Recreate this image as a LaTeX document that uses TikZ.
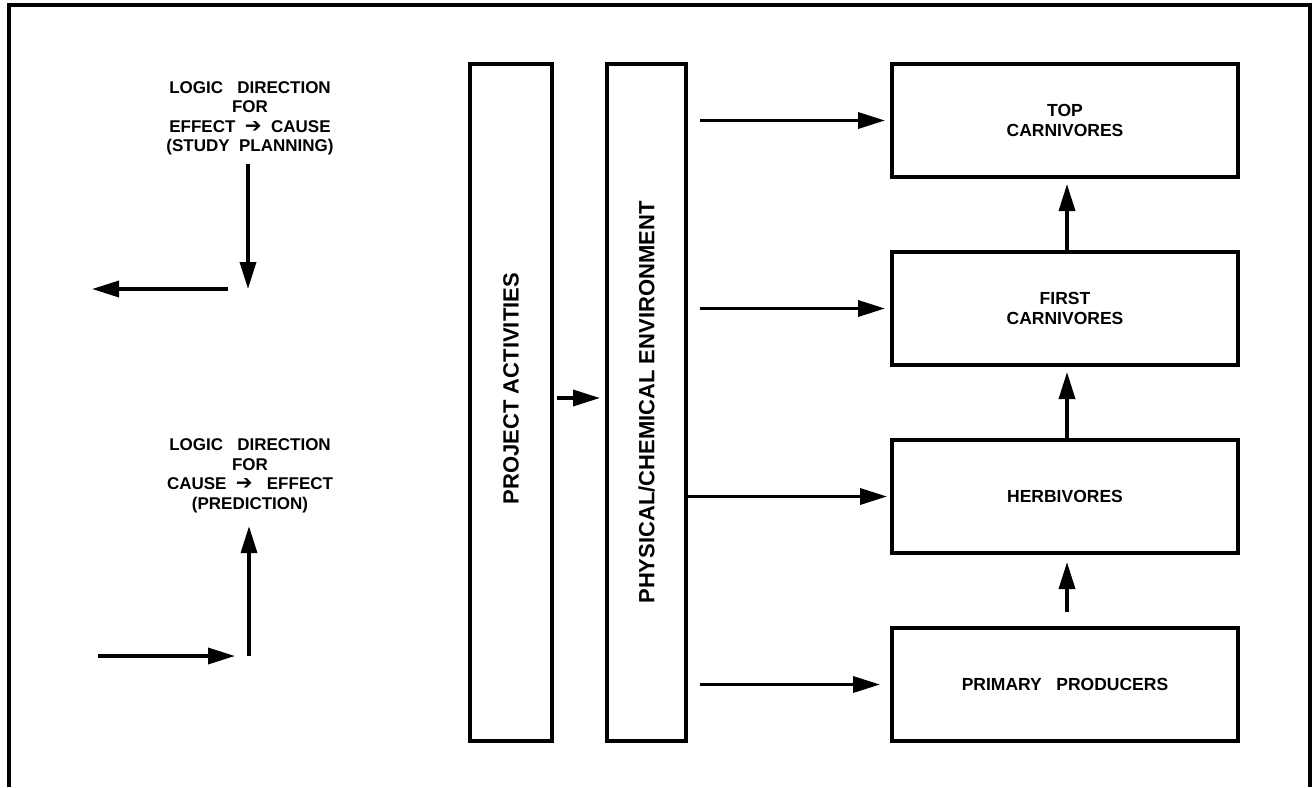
\documentclass[tikz,border=0pt]{standalone}
\usepackage{fontspec}
\setmainfont{Liberation Sans}
\newfontfamily\symfont{DejaVu Sans}
\usetikzlibrary{arrows.meta,positioning}

\tikzset{
  arr/.style={line width=3.5pt, -{Triangle[length=27pt,width=16pt]}},
  level/.style={draw, line width=3.5pt, minimum width=346pt, minimum height=113pt,
    inner sep=0pt, outer sep=0pt, align=center,
    font=\bfseries\fontsize{17.5}{19.5}\selectfont},
  column/.style={draw, line width=3.5pt, minimum height=677pt,
    inner sep=0pt, outer sep=0pt, font=\bfseries\fontsize{22}{24}\selectfont},
  logic/.style={align=center, inner sep=3pt, font=\bfseries\fontsize{17}{19.5}\selectfont}
}
\newcommand{\smallarr}{{\symfont\mdseries\fontsize{20}{19.5}\selectfont ➔}}

\begin{document}
\begin{tikzpicture}[x=1pt, y=-1pt]
\useasboundingbox (0,0) rectangle (1313,787);
% open frame
\draw[line width=3.5pt] (9,787) -- (9,5) -- (1310,5) -- (1310,787);

% logic direction notes
\node[logic] (logicA) at (250,118.5) {LOGIC\ \ \ DIRECTION\\FOR\\EFFECT\ \ \smallarr\ \ CAUSE\\(STUDY\ \ PLANNING)};
\node[logic] (logicB) at (250,476) {LOGIC\ \ \ DIRECTION\\FOR\\CAUSE\ \ \smallarr\ \ \ EFFECT\\(PREDICTION)};
\coordinate (cornerA) at (248,289);
\coordinate (leftA) at (92,289);
\coordinate (cornerB) at (249,656);
\coordinate (startB) at (98,656);
\draw[arr, shorten <=5pt] (logicA.south -| cornerA) -- (cornerA);
\draw[arr] ([xshift=-20pt]cornerA) -- (leftA);
\draw[arr, shorten >=10pt] (cornerB) -- (logicB.south -| cornerB);
\draw[arr] (startB) -- ([xshift=-14pt]cornerB);

% the two columns
\node[column, minimum width=82pt] (proj) at (511,402.5) {\rotatebox{90}{\hspace*{28pt}PROJECT ACTIVITIES}};
\node[column, minimum width=79pt] (phys) at (646.5,402.5) {\rotatebox{90}{PHYSICAL/CHEMICAL ENVIRONMENT}};
\draw[arr, shorten <=5pt, shorten >=7pt] ([yshift=4.5pt]proj.east) -- ([yshift=4.5pt]phys.west);

% food chain levels
\node[level] (top) at (1065,120.5) {TOP\\CARNIVORES};
\node[level] (first) at (1065,308.5) {FIRST\\CARNIVORES};
\node[level] (herb) at (1065,496.5) {HERBIVORES};
\node[level] (prim) at (1065,684.5) {PRIMARY\ \ \ PRODUCERS};

\draw[arr, shorten <=14pt, shorten >=7pt] (phys.east |- top.west) -- (top.west);
\draw[arr, shorten <=14pt, shorten >=7pt] (phys.east |- first.west) -- (first.west);
\draw[arr, shorten >=5pt] (phys.east |- herb.west) -- (herb.west);
\draw[arr, shorten <=14pt, shorten >=12pt] (phys.east |- prim.west) -- (prim.west);

\draw[arr, shorten >=7pt] ([xshift=2pt]first.north) -- ([xshift=2pt]top.south);
\draw[arr, shorten >=7pt] ([xshift=2pt]herb.north) -- ([xshift=2pt]first.south);
\draw[arr, shorten <=16pt, shorten >=9pt] ([xshift=2pt]prim.north) -- ([xshift=2pt]herb.south);
\end{tikzpicture}
\end{document}
